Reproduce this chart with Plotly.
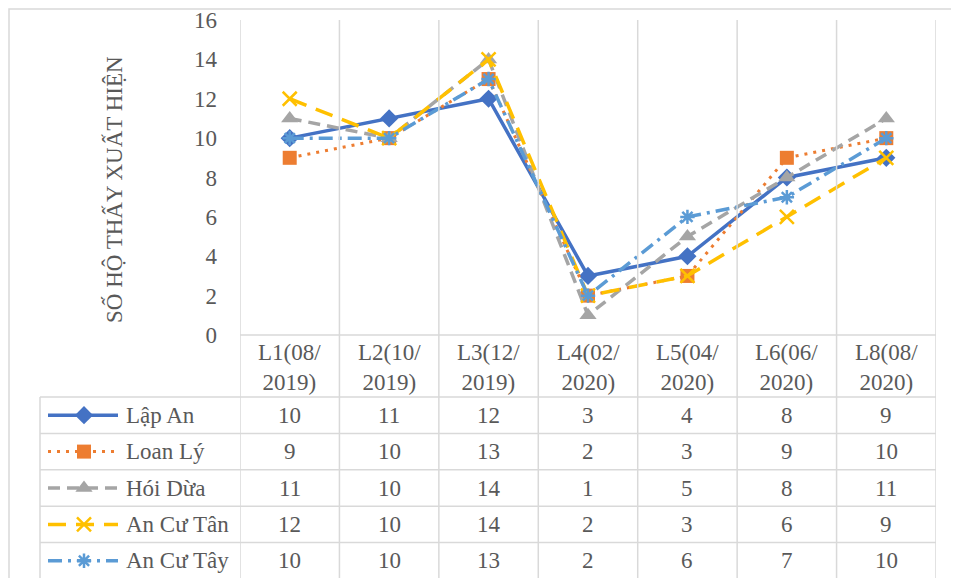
import plotly.graph_objects as go

W, H = 959, 578

categories = ["L1(08/2019)", "L2(10/2019)", "L3(12/2019)", "L4(02/2020)",
              "L5(04/2020)", "L6(06/2020)", "L8(08/2020)"]
series_names = ["Lập An", "Loan Lý", "Hói Dừa", "An Cư Tân", "An Cư Tây"]
lap_an = [10, 11, 12, 3, 4, 8, 9]
loan_ly = [9, 10, 13, 2, 3, 9, 10]
hoi_dua = [11, 10, 14, 1, 5, 8, 11]
an_cu_tan = [12, 10, 14, 2, 3, 6, 9]
an_cu_tay = [10, 10, 13, 2, 6, 7, 10]
y_ticks = [0, 2, 4, 6, 8, 10, 12, 14, 16]
y_title = "SỐ HỘ THẤY XUẤT HIỆN"

series_values = [lap_an, loan_ly, hoi_dua, an_cu_tan, an_cu_tay]
colors = ["#4472C4", "#ED7D31", "#A5A5A5", "#FFC000", "#5B9BD5"]
dashes = ["solid", "3px,6px", "12px,7px", "18px,10px", "14px,6px,3px,6px"]
widths = [3.5, 3, 3.5, 3.5, 3.5]
symbols = ["diamond", "square", "triangle-up", "x-thin-open", "asterisk-open"]
msizes = [14, 14, 15, 14, 12]

FONT = "Liberation Serif"
FS = 23
TXT = "#595959"
GRID = "#D9D9D9"

# page offset (body margin) compensation
OFF = 8

# pixel layout (in screenshot coordinates)
PL, PR, PT, PB = 240, 936, 20, 335
TL = 40
HDR_B = 397
ROW_H = 36.4
TB = HDR_B + ROW_H * len(series_names)


def px(x):
    return (x - OFF) / W


def py(y):
    return 1 - (y - OFF) / H


fig = go.Figure()
x_idx = list(range(len(categories)))

for i, name in enumerate(series_names):
    mk = dict(symbol=symbols[i], size=msizes[i], color=colors[i])
    if symbols[i].endswith("open"):
        mk["line"] = dict(color=colors[i], width=2.5)
    fig.add_trace(go.Scatter(
        x=x_idx, y=series_values[i], mode="lines+markers", name=name,
        line=dict(color=colors[i], width=widths[i], dash=dashes[i]),
        marker=mk, xaxis="x", yaxis="y", showlegend=False, cliponaxis=False))

# legend keys inside table (overlay pixel axes)
for i, name in enumerate(series_names):
    cy = HDR_B + ROW_H * (i + 0.5) - OFF
    fig.add_trace(go.Scatter(
        x=[48 - OFF, 118 - OFF], y=[cy, cy], mode="lines",
        line=dict(color=colors[i], width=widths[i], dash=dashes[i]),
        xaxis="x2", yaxis="y2", showlegend=False, hoverinfo="skip"))
    mk = dict(symbol=symbols[i], size=msizes[i], color=colors[i])
    if symbols[i].endswith("open"):
        mk["line"] = dict(color=colors[i], width=2.5)
    fig.add_trace(go.Scatter(
        x=[84 - OFF], y=[cy], mode="markers", marker=mk,
        xaxis="x2", yaxis="y2", showlegend=False, hoverinfo="skip"))

shapes = []
line = dict(color=GRID, width=1.5)
# outer border (right/bottom are off-page)
shapes.append(dict(type="rect", xref="paper", yref="paper",
                   x0=px(9), x1=px(970), y0=py(9), y1=py(590), line=line))
# vertical gridlines through plot and table
for k in range(len(categories) + 1):
    shapes.append(dict(type="line", xref="x", yref="paper",
                       x0=k - 0.5, x1=k - 0.5, y0=py(PT), y1=py(TB), line=line))
# plot bottom
shapes.append(dict(type="line", xref="paper", yref="paper",
                   x0=px(PL), x1=px(PR), y0=py(PB), y1=py(PB), line=line))
# table horizontal lines
for r in range(len(series_names) + 1):
    yy = HDR_B + ROW_H * r
    shapes.append(dict(type="line", xref="paper", yref="paper",
                       x0=px(TL), x1=px(PR), y0=py(yy), y1=py(yy), line=line))
shapes.append(dict(type="line", xref="paper", yref="paper",
                   x0=px(TL), x1=px(TL), y0=py(HDR_B), y1=py(TB), line=line))

annotations = []
# header labels
for j, c in enumerate(categories):
    a, b = c.split("/", 1)
    annotations.append(dict(xref="x", yref="paper", x=j, y=py((PB + HDR_B) / 2 + 1),
                            text=a + "/<br>" + b, showarrow=False,
                            font=dict(family=FONT, size=FS, color=TXT),
                            xanchor="center", yanchor="middle"))
# table values and names
for i, name in enumerate(series_names):
    cy = HDR_B + ROW_H * (i + 0.5)
    annotations.append(dict(xref="paper", yref="paper", x=px(124), y=py(cy),
                            text=name, showarrow=False, xanchor="left", yanchor="middle",
                            font=dict(family=FONT, size=FS, color=TXT)))
    for j, v in enumerate(series_values[i]):
        annotations.append(dict(xref="x", yref="paper", x=j, y=py(cy),
                                text=str(v), showarrow=False,
                                xanchor="center", yanchor="middle",
                                font=dict(family=FONT, size=FS, color=TXT)))
# y title
annotations.append(dict(xref="paper", yref="paper", x=px(114), y=py(190),
                        text=y_title, textangle=-90, showarrow=False,
                        xanchor="center", yanchor="middle",
                        font=dict(family=FONT, size=FS, color=TXT)))

fig.update_layout(
    width=W, height=H, autosize=False,
    margin=dict(l=0, r=0, t=0, b=0, autoexpand=False),
    paper_bgcolor="white", plot_bgcolor="rgba(0,0,0,0)",
    xaxis=dict(domain=[px(PL), px(PR)], range=[-0.5, len(categories) - 0.5],
               visible=False, anchor="y"),
    yaxis=dict(domain=[py(PB), py(PT)], range=[0, 16], tickvals=y_ticks,
               showgrid=False, zeroline=False, showline=False, ticks="",
               ticklabelstandoff=22, anchor="x",
               tickfont=dict(family=FONT, size=FS, color=TXT)),
    xaxis2=dict(domain=[0, 1], range=[0, W], visible=False, anchor="y2"),
    yaxis2=dict(domain=[0, 1], range=[H, 0], visible=False, anchor="x2"),
    shapes=shapes, annotations=annotations, showlegend=False,
)

fig.write_html("out.html")
